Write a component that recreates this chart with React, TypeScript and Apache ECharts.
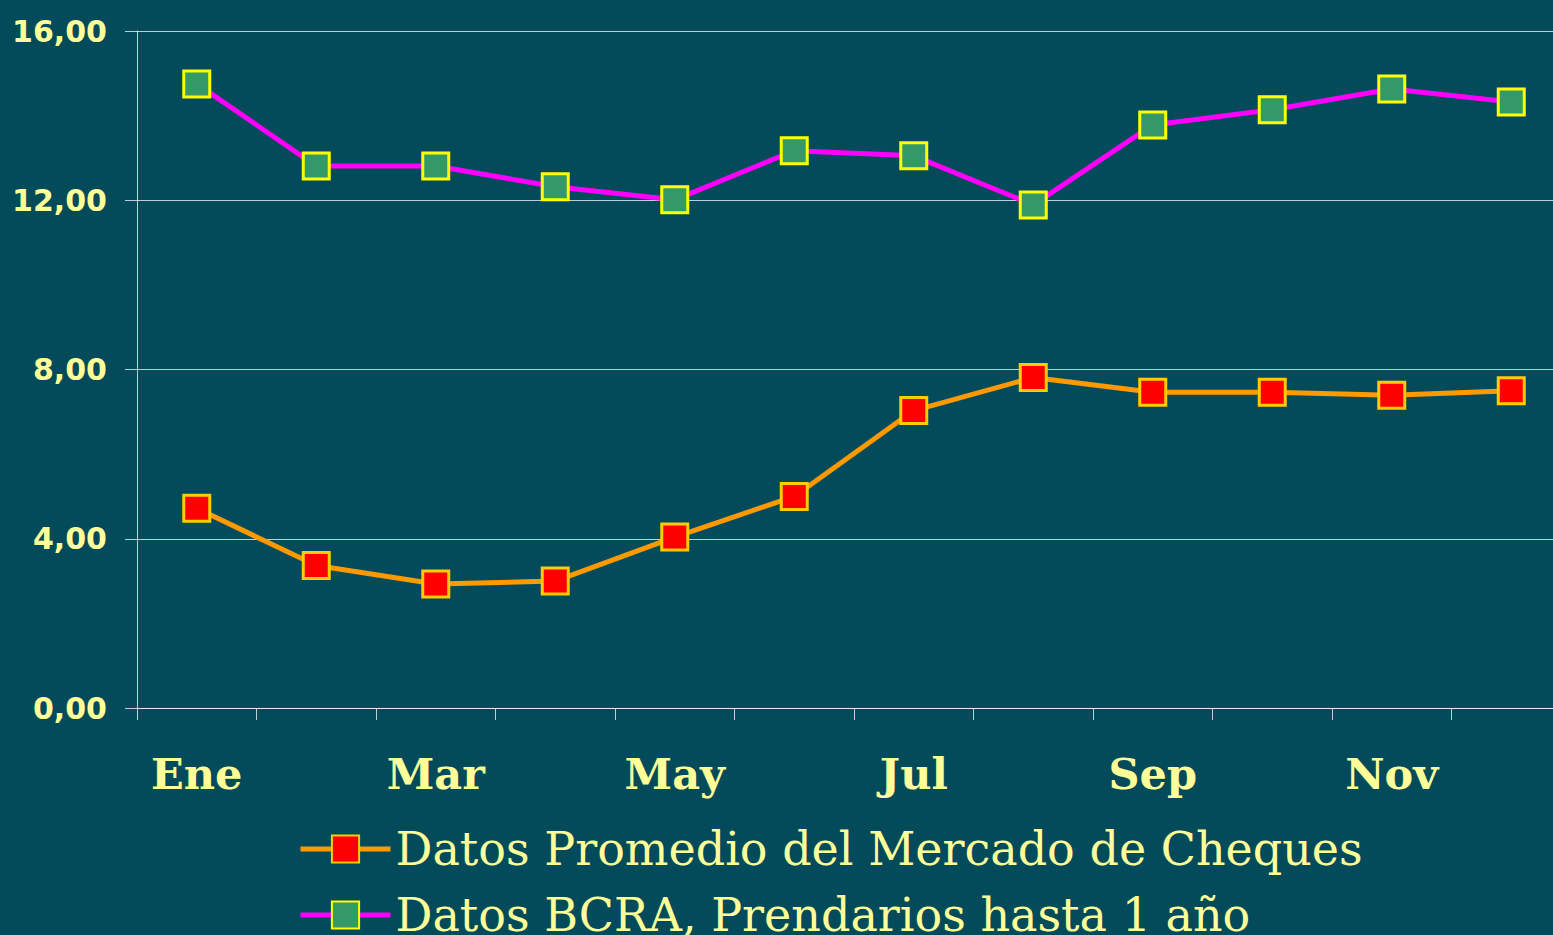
import React, { useEffect, useRef } from "react";
import * as echarts from "echarts";

const months = ["Ene", "Feb", "Mar", "Abr", "May", "Jun", "Jul", "Ago", "Sep", "Oct", "Nov", "Dic"];
const chequesValues = [4.72, 3.37, 2.93, 3.0, 4.04, 5.0, 7.03, 7.81, 7.46, 7.46, 7.39, 7.5];
const bcraValues = [14.75, 12.81, 12.81, 12.32, 12.01, 13.17, 13.05, 11.89, 13.78, 14.14, 14.63, 14.32];
const seriesNames = ["Datos Promedio del Mercado de Cheques", "Datos BCRA, Prendarios hasta 1 año"];
const yTicks = [0, 4, 8, 12, 16];

const TXT = "#ffff99";
const LINE = "rgba(235,240,242,0.8)";

const legendBase = {
  orient: "vertical",
  left: 293,
  itemWidth: 90,
  itemHeight: 34,
  lineStyle: { width: 5 },
  textStyle: { color: TXT, fontFamily: "DejaVu Serif", fontSize: 46, padding: [0, 0, 0, 0] },
};

export default function App() {
  const ref = useRef<HTMLDivElement>(null);
  useEffect(() => {
    document.body.style.margin = "0";
    document.body.style.overflow = "hidden";
    const chart = echarts.init(ref.current!, undefined, { renderer: "svg" });
    chart.setOption({
      animation: false,
      backgroundColor: "#034b5a",
      grid: { left: 137, top: 31, bottom: 227, right: 0 },
      legend: [
        { ...legendBase, top: 821, data: [seriesNames[0]] },
        { ...legendBase, top: 887, data: [seriesNames[1]] },
      ],
      xAxis: {
        type: "category",
        data: months,
        boundaryGap: true,
        axisLine: { show: true, lineStyle: { color: LINE, width: 1 } },
        axisTick: { show: true, interval: 0, length: 12, lineStyle: { color: LINE } },
        axisLabel: {
          interval: 1,
          color: TXT,
          fontFamily: "DejaVu Serif",
          fontWeight: "bold",
          fontSize: 43,
          margin: 44,
        },
      },
      yAxis: {
        type: "value",
        min: 0,
        max: 16,
        interval: 4,
        axisLine: { show: true, lineStyle: { color: LINE, width: 1 } },
        axisTick: { show: true, length: 12, lineStyle: { color: LINE } },
        splitLine: { show: true, lineStyle: { color: LINE, width: 1 } },
        axisLabel: {
          color: TXT,
          fontFamily: "DejaVu Sans",
          fontWeight: "bold",
          fontSize: 30,
          margin: 30,
          formatter: (v: number) => (yTicks.includes(v) ? v.toFixed(2).replace(".", ",") : ""),
        },
      },
      series: [
        {
          name: seriesNames[0],
          type: "line",
          data: chequesValues,
          symbol: "rect",
          symbolSize: 26,
          lineStyle: { color: "#ff9900", width: 5 },
          itemStyle: { color: "#ff0000", borderColor: "#ffcc00", borderWidth: 3 },
          z: 3,
        },
        {
          name: seriesNames[1],
          type: "line",
          data: bcraValues,
          symbol: "rect",
          symbolSize: 26,
          lineStyle: { color: "#ff00ff", width: 5 },
          itemStyle: { color: "#339966", borderColor: "#ffff00", borderWidth: 3 },
          z: 3,
        },
      ],
    });
    return () => chart.dispose();
  }, []);
  return <div ref={ref} style={{ width: 1571, height: 935 }} />;
}
